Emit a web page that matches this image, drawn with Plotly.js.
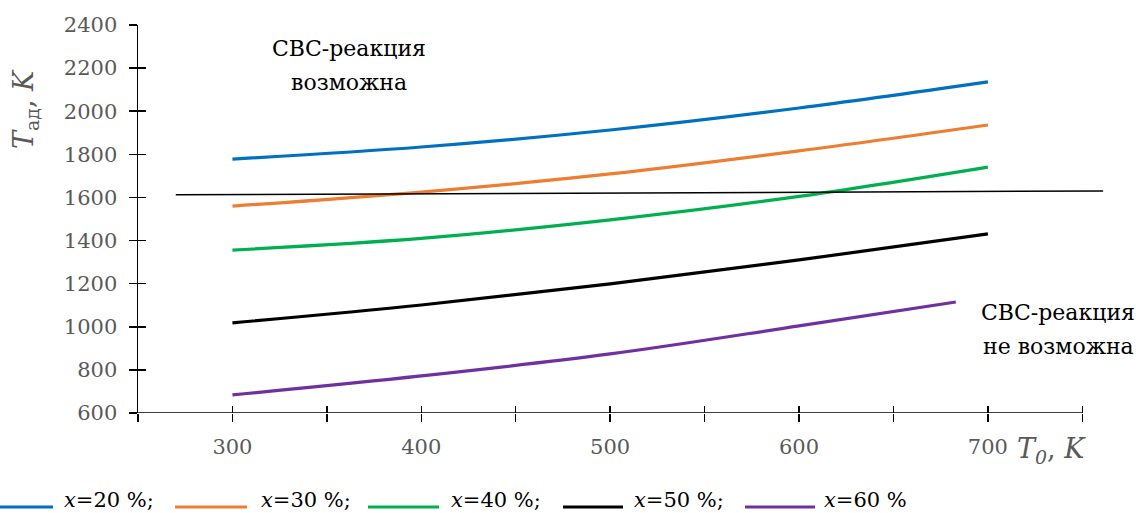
<!DOCTYPE html>
<html>
<head>
<meta charset="utf-8">
<script src="https://cdn.plot.ly/plotly-3.0.1.min.js"></script>
<style>html,body{margin:0;padding:0;background:#fff;}#chart{width:1136px;height:513px;}</style>
</head>
<body>
<div id="chart"></div>
<script>
// Data
const T0 = [300, 400, 500, 600, 700];
const T0_60 = [300, 400, 500, 600, 683];
const Tad20 = [1778, 1834, 1913, 2015, 2136];
const Tad30 = [1560, 1625, 1709, 1816, 1936];
const Tad40 = [1356, 1410, 1496, 1605, 1741];
const Tad50 = [1018, 1101, 1199, 1310, 1431];
const Tad60 = [684, 772, 874, 1004, 1115];
const thresholdX = [270, 761];
const thresholdY = [1612, 1630];
const seriesNames = ['<i>x</i>=20 %;', '<i>x</i>=30 %;', '<i>x</i>=40 %;', '<i>x</i>=50 %;', '<i>x</i>=60 %'];
const xTickVals = [300, 400, 500, 600, 700];
const yTickVals = [600, 800, 1000, 1200, 1400, 1600, 1800, 2000, 2200, 2400];
const XMIN = 250, XMAX = 750, XVIEW = 762, YMIN = 600, YMAX = 2400;

const colors = ['#0070C0', '#ED7D31', '#00B050', '#000000', '#7030A0'];
const FONT = 'DejaVu Serif';

// layout geometry (pixels)
const W = 1136, H = 513, ML = 138, MR = 31, MT = 25, MB = 100;
const PW = W - ML - MR, PH = H - MT - MB;
const px = v => (v - ML) / PW;
const py = v => (H - MB - v) / PH;

const mk = (x, y, i) => ({
  x: x, y: y, type: 'scatter', mode: 'lines', name: seriesNames[i],
  line: {color: colors[i], width: 3.2, shape: 'spline', smoothing: 1}
});

const traces = [
  mk(T0, Tad20, 0), mk(T0, Tad30, 1), mk(T0, Tad40, 2), mk(T0, Tad50, 3), mk(T0_60, Tad60, 4),
  {x: thresholdX, y: thresholdY, type: 'scatter', mode: 'lines', showlegend: false,
   line: {color: '#000000', width: 1.5}, hoverinfo: 'skip'},
  {x: [XMIN], y: [YMIN], xaxis: 'x2', yaxis: 'y2', type: 'scatter', mode: 'markers',
   marker: {opacity: 0}, showlegend: false, hoverinfo: 'skip'}
];

// manual legend
const legLines = [[0, 53], [175, 247], [368, 439], [563, 623], [745, 815]];
const legText = [63, 260, 450, 633, 823];
const legLineY = 507;

const shapes = [
  {type: 'line', xref: 'x', yref: 'y', x0: XMIN, x1: XMAX, y0: YMIN, y1: YMIN,
   line: {color: '#000', width: 1.5}, layer: 'above'}
];
const txt = (x, y, t, size, color, extra) => Object.assign({
  xref: 'paper', yref: 'paper', x: px(x), y: py(y), xanchor: 'center', yanchor: 'middle', showarrow: false,
  text: t, font: {family: FONT, size: size, color: color}
}, extra || {});
const annotations = [
  txt(349, 48, 'СВС-реакция', 22, '#000'),
  txt(349, 82, 'возможна', 22, '#000'),
  txt(1058, 312, 'СВС-реакция', 22, '#000'),
  txt(1058, 346, 'не возможна', 22, '#000'),
  txt(1051, 450, '<i>T</i><sub><i>0</i></sub>, <i>K</i>', 27, '#595959'),
  txt(25, 109, '<i>T</i><sub>ад</sub>, <i>K</i>', 27, '#595959', {textangle: -90})
];
seriesNames.forEach((nm, i) => {
  shapes.push({type: 'line', xref: 'paper', yref: 'paper', x0: px(legLines[i][0]), x1: px(legLines[i][1]),
    y0: py(legLineY), y1: py(legLineY), line: {color: colors[i], width: 3}});
  annotations.push({xref: 'paper', yref: 'paper', x: px(legText[i]), y: py(H), xanchor: 'left', yanchor: 'bottom',
    showarrow: false, borderpad: 0, text: nm, font: {family: FONT, size: 21, color: '#000'}});
});

const tickCommon = {tickcolor: '#000', tickwidth: 1.5};
const layout = {
  width: W, height: H,
  margin: {l: ML, r: MR, t: MT, b: MB},
  paper_bgcolor: '#ffffff', plot_bgcolor: '#ffffff',
  showlegend: false,
  xaxis: Object.assign({
    range: [XMIN, XVIEW], showgrid: false, zeroline: false, showline: false,
    tickmode: 'array', tickvals: xTickVals, ticks: 'outside', ticklen: 6,
    minor: {dtick: 50, tick0: 250, ticks: 'outside', ticklen: 8, tickwidth: 1.5, tickcolor: '#000', showgrid: false},
    tickfont: {family: FONT, size: 21, color: '#595959'}, ticklabelstandoff: 9
  }, tickCommon),
  xaxis2: Object.assign({
    overlaying: 'x', anchor: 'y', side: 'bottom', range: [XMIN, XVIEW], showgrid: false, zeroline: false, showline: false,
    tickmode: 'array', tickvals: xTickVals, ticks: 'inside', ticklen: 3, showticklabels: false,
    minor: {dtick: 50, tick0: 250, ticks: 'inside', ticklen: 7, tickwidth: 1.5, tickcolor: '#000', showgrid: false}
  }, tickCommon),
  yaxis: Object.assign({
    range: [YMIN, YMAX], showgrid: false, zeroline: false, showline: true, linecolor: '#000', linewidth: 1.5,
    tickmode: 'array', tickvals: yTickVals, ticks: 'outside', ticklen: 8,
    tickfont: {family: FONT, size: 21, color: '#595959'}, ticklabelstandoff: 7
  }, tickCommon),
  yaxis2: Object.assign({
    overlaying: 'y', anchor: 'x', side: 'left', range: [YMIN, YMAX], showgrid: false, zeroline: false, showline: false,
    tickmode: 'array', tickvals: yTickVals, ticks: 'inside', ticklen: 8, showticklabels: false
  }, tickCommon),
  shapes: shapes,
  annotations: annotations
};

Plotly.newPlot('chart', traces, layout, {displayModeBar: false, staticPlot: true});
</script>
</body>
</html>
